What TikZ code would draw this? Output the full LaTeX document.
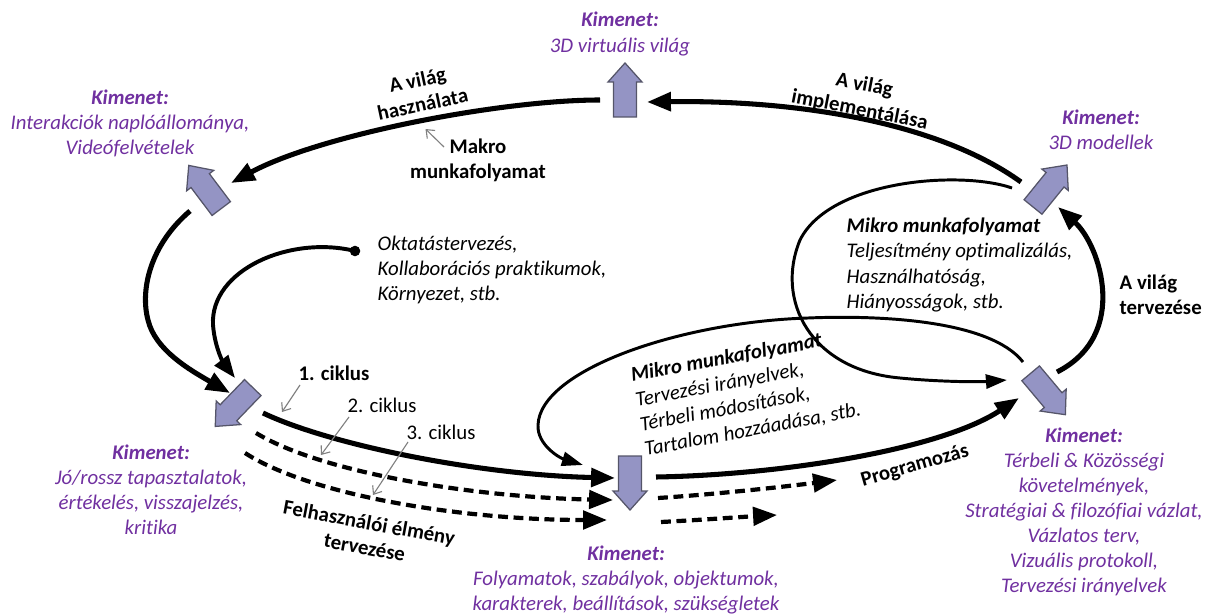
\documentclass[tikz,border=0pt]{standalone}
\usepackage{fontspec}
\setmainfont{Carlito}[Ligatures=NoCommon]
\usetikzlibrary{arrows.meta}
\definecolor{kpurple}{RGB}{112,48,160}
\definecolor{afill}{RGB}{148,148,196}
\definecolor{aline}{RGB}{85,85,105}
\newcommand\fsz{\fontsize{14.8}{17.8}\selectfont}
\tikzset{
  thk/.style={line width=3.6pt, -{Triangle[length=17pt,width=13pt]}},
  dsh/.style={line width=3pt, dash pattern=on 7pt off 4pt, -{Triangle[length=17pt,width=13pt]}},
  thn/.style={line width=2.1pt, -{Triangle[length=15pt,width=10pt]}},
  mid/.style={line width=2.8pt, -{Triangle[length=16pt,width=12pt]}},
  ptr/.style={draw=gray, line width=0.8pt, -{Straight Barb[length=5pt,width=8pt]}},
  kim/.style={text=kpurple, font=\fsz\itshape, align=center, inner sep=1pt},
  lbl/.style={font=\fsz\bfseries, align=center, inner sep=1pt},
  txt/.style={font=\fsz, inner sep=1pt},
  itx/.style={font=\fsz\itshape, align=left, inner sep=1pt},
  pics/barrow/.style={code={
    \draw[fill=afill, draw=aline, line width=0.9pt, line join=miter]
      (-27,-11.5) -- (8,-11.5) -- (8,-17) -- (27,0) -- (8,17) -- (8,11.5) -- (-27,11.5) -- cycle;}}
}
\begin{document}
\begin{tikzpicture}[x=0.025cm, y=-0.025cm]
\useasboundingbox (0,0) rectangle (1208,615);

% block arrows (outputs)
\path (625,90) pic[rotate=90] {barrow};
\path (205,187) pic[rotate=127] {barrow};
\path (234,407) pic[rotate=226] {barrow};
\path (630,483) pic[rotate=270] {barrow};
\path (1048,394) pic[rotate=-50] {barrow};
\path (1050,186) pic[rotate=51] {barrow};

% outputs
\node[kim] (k1) at (620,34) {{\bfseries Kimenet:}\\3D virtuális világ};
\node[kim] (k2) at (130,123) {{\bfseries Kimenet:}\\Interakciók naplóállománya,\\Videófelvételek};
\node[kim] (k3) at (1101,130) {{\bfseries Kimenet:}\\3D modellek};
\node[kim] (k4) at (151,490) {{\bfseries Kimenet:}\\Jó/rossz tapasztalatok,\\értékelés, visszajelzés,\\kritika};
\node[kim] (k5) at (626,580) {{\bfseries Kimenet:}\\Folyamatok, szabályok, objektumok,\\karakterek, beállítások, szükségletek};
\node[kim] (k6) at (1084,512) {{\bfseries Kimenet:}\\Térbeli \& Közösségi\\követelmények,\\Stratégiai \& filozófiai vázlat,\\Vázlatos terv,\\Vizuális protokoll,\\Tervezési irányelvek};

% labels
\node[lbl, rotate=12] (t1) at (420,92) {A világ\\használata};
\node[lbl, rotate=-11] (t2) at (862,98) {A világ\\implementálása};
\node[lbl] (t3) at (478,160) {Makro\\munkafolyamat};
\node[itx, anchor=west] (t4) at (376,270) {Oktatástervezés,\\Kollaborációs praktikumok,\\Környezet, stb.};
\node[itx, anchor=west] (t5) at (845,265) {{\bfseries Mikro munkafolyamat}\\Teljesítmény optimalizálás,\\Használhatóság,\\Hiányosságok, stb.};
\node[lbl, align=left, anchor=west] (t6) at (1118,295) {A világ\\tervezése};
\node[lbl] (c1) at (334,373) {1. ciklus};
\node[txt] (c2) at (382,405) {2. ciklus};
\node[txt] (c3) at (441,432) {3. ciklus};
\node[lbl, rotate=-10.5] (t7) at (367,535) {Felhasználói élmény\\tervezése};
\node[itx, rotate=10.5] (t8) at (746,393) {{\bfseries Mikro munkafolyamat}\\Tervezési irányelvek,\\Térbeli módosítások,\\Tartalom hozzáadása, stb.};
\node[lbl, rotate=16] (t9) at (915,466) {Programozás};

% macro loop
\draw[thk] (1021,182) .. controls (935,120) and (790,100) .. (647,102);
\draw[thk] (600,100) .. controls (500,100) and (320,135) .. (231,183);
\draw[thk] (190,211) .. controls (150,245) and (140,290) .. (148,320) .. controls (155,350) and (190,370) .. (230,393);
\draw[thk] (263,413) .. controls (330,445) and (480,475) .. (615,478);
\draw[dsh] (256,433) .. controls (320,472) and (470,497) .. (613,500);
\draw[dsh] (245,453) .. controls (310,495) and (460,520) .. (607,520);
\draw[thk] (656,477) .. controls (780,475) and (940,450) .. (1019,398);
\draw[dsh] (658,498) .. controls (720,494) and (790,486) .. (837,480);
\draw[dsh] (661,522) .. controls (700,520) and (740,517) .. (777,515);
\draw[thk] (1057,372) .. controls (1130,335) and (1100,245) .. (1058,207);

% input curve
\node[circle, fill=black, inner sep=0pt, minimum size=7.5pt] (dot) at (355,251) {};
\draw[mid] (dot.center) .. controls (290,235) and (210,270) .. (213,325) .. controls (215,350) and (225,365) .. (235,378);

% micro loops
\draw[thn] (1023,362) .. controls (990,320) and (880,315) .. (808,318) .. controls (680,322) and (540,370) .. (538,425) .. controls (537,445) and (560,458) .. (583,465);
\draw[thn] (1012,188) .. controls (960,170) and (830,180) .. (800,240) .. controls (775,300) and (810,370) .. (900,378) .. controls (940,382) and (980,382) .. (1007,380);

% pointers
\draw[ptr] (444,147) -- (425.5,129);
\draw[ptr] (300,385) -- (282,412);
\draw[ptr] (349,417) -- (321,455);
\draw[ptr] (408,442) -- (373,495);
\end{tikzpicture}
\end{document}
